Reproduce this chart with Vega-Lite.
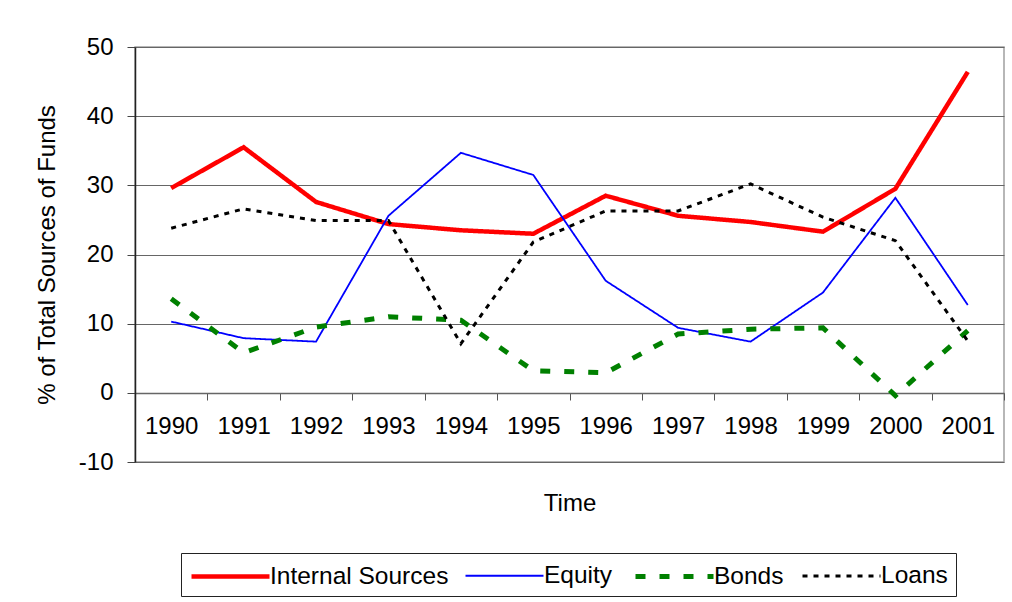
{
  "$schema": "https://vega.github.io/schema/vega-lite/v6.json",
  "width": 869,
  "height": 415,
  "autosize": {"type": "none"},
  "padding": {"left": 135, "top": 47, "right": 8, "bottom": 140},
  "background": "white",
  "data": {
    "values": [
      {"year": "1990", "series": "Internal Sources", "value": 29.6},
      {"year": "1991", "series": "Internal Sources", "value": 35.5},
      {"year": "1992", "series": "Internal Sources", "value": 27.6},
      {"year": "1993", "series": "Internal Sources", "value": 24.4},
      {"year": "1994", "series": "Internal Sources", "value": 23.5},
      {"year": "1995", "series": "Internal Sources", "value": 23.0},
      {"year": "1996", "series": "Internal Sources", "value": 28.5},
      {"year": "1997", "series": "Internal Sources", "value": 25.6},
      {"year": "1998", "series": "Internal Sources", "value": 24.7},
      {"year": "1999", "series": "Internal Sources", "value": 23.3},
      {"year": "2000", "series": "Internal Sources", "value": 29.5},
      {"year": "2001", "series": "Internal Sources", "value": 46.4},
      {"year": "1990", "series": "Equity", "value": 10.3},
      {"year": "1991", "series": "Equity", "value": 7.9},
      {"year": "1992", "series": "Equity", "value": 7.4},
      {"year": "1993", "series": "Equity", "value": 25.6},
      {"year": "1994", "series": "Equity", "value": 34.7},
      {"year": "1995", "series": "Equity", "value": 31.5},
      {"year": "1996", "series": "Equity", "value": 16.2},
      {"year": "1997", "series": "Equity", "value": 9.4},
      {"year": "1998", "series": "Equity", "value": 7.4},
      {"year": "1999", "series": "Equity", "value": 14.5},
      {"year": "2000", "series": "Equity", "value": 28.2},
      {"year": "2001", "series": "Equity", "value": 12.7},
      {"year": "1990", "series": "Bonds", "value": 13.6},
      {"year": "1991", "series": "Bonds", "value": 5.8},
      {"year": "1992", "series": "Bonds", "value": 9.5},
      {"year": "1993", "series": "Bonds", "value": 11.0},
      {"year": "1994", "series": "Bonds", "value": 10.5},
      {"year": "1995", "series": "Bonds", "value": 3.2},
      {"year": "1996", "series": "Bonds", "value": 2.9},
      {"year": "1997", "series": "Bonds", "value": 8.5},
      {"year": "1998", "series": "Bonds", "value": 9.2},
      {"year": "1999", "series": "Bonds", "value": 9.4},
      {"year": "2000", "series": "Bonds", "value": -0.4},
      {"year": "2001", "series": "Bonds", "value": 9.0},
      {"year": "1990", "series": "Loans", "value": 23.8},
      {"year": "1991", "series": "Loans", "value": 26.6},
      {"year": "1992", "series": "Loans", "value": 24.9},
      {"year": "1993", "series": "Loans", "value": 24.9},
      {"year": "1994", "series": "Loans", "value": 7.1},
      {"year": "1995", "series": "Loans", "value": 21.8},
      {"year": "1996", "series": "Loans", "value": 26.3},
      {"year": "1997", "series": "Loans", "value": 26.3},
      {"year": "1998", "series": "Loans", "value": 30.2},
      {"year": "1999", "series": "Loans", "value": 25.4},
      {"year": "2000", "series": "Loans", "value": 22.0},
      {"year": "2001", "series": "Loans", "value": 7.5}
    ]
  },
  "mark": {"type": "line", "strokeCap": "butt"},
  "encoding": {
    "x": {
      "field": "year",
      "type": "ordinal",
      "scale": {"type": "band", "paddingInner": 0, "paddingOuter": 0},
      "axis": {
        "title": "Time",
        "tickBand": "extent",
        "offset": -69,
        "labelAngle": 0,
        "labelPadding": 14,
        "tickSize": 7,
        "tickColor": "#555",
        "domainColor": "#666",
        "titlePadding": 53,
        "grid": false
      }
    },
    "y": {
      "field": "value",
      "type": "quantitative",
      "scale": {"domain": [-10, 50], "nice": false, "zero": false},
      "axis": {
        "title": "% of Total Sources of Funds",
        "values": [-10, 0, 10, 20, 30, 40, 50],
        "labelExpr": "datum.value + ''",
        "tickSize": 8,
        "tickColor": "#444",
        "labelPadding": 14,
        "titlePadding": 19,
        "grid": true,
        "gridColor": "#666",
        "domainColor": "#222"
      }
    },
    "color": {
      "field": "series",
      "type": "nominal",
      "scale": {
        "domain": ["Internal Sources", "Equity", "Bonds", "Loans"],
        "range": ["#ff0000", "#0000ff", "#008000", "#000000"]
      },
      "legend": {"title": null, "orient": "none", "legendX": 46, "legendY": 506, "direction": "horizontal", "columns": 4}
    },
    "strokeDash": {
      "field": "series",
      "type": "nominal",
      "scale": {
        "type": "ordinal",
        "domain": ["Internal Sources", "Equity", "Bonds", "Loans"],
        "range": [[1, 0], [1, 0], [10, 14], [5, 6]]
      },
      "legend": {"title": null, "orient": "none", "legendX": 46, "legendY": 506, "direction": "horizontal", "columns": 4}
    },
    "strokeWidth": {
      "field": "series",
      "type": "nominal",
      "scale": {
        "type": "ordinal",
        "domain": ["Internal Sources", "Equity", "Bonds", "Loans"],
        "range": [4.5, 1.8, 5, 3]
      },
      "legend": {"title": null, "orient": "none", "legendX": 46, "legendY": 506, "direction": "horizontal", "columns": 4}
    }
  },
  "config": {
    "font": "Liberation Sans",
    "view": {"stroke": "#a0a0a0", "strokeWidth": 1.5},
    "axis": {
      "labelFont": "Liberation Sans",
      "labelFontSize": 24,
      "labelColor": "black",
      "titleFont": "Liberation Sans",
      "titleFontSize": 24,
      "titleFontWeight": "normal",
      "titleColor": "black",
      "domainWidth": 1.5,
      "gridWidth": 1.2
    },
    "legend": {
      "symbolType": "M-1,0H5",
      "symbolSize": 676,
      "labelFont": "Liberation Sans",
      "labelFontSize": 24.5,
      "labelColor": "black",
      "labelLimit": 300,
      "labelOffset": 50,
      "columnPadding": 12,
      "padding": 8,
      "strokeColor": "#222",
      "fillColor": "white"
    }
  }
}
